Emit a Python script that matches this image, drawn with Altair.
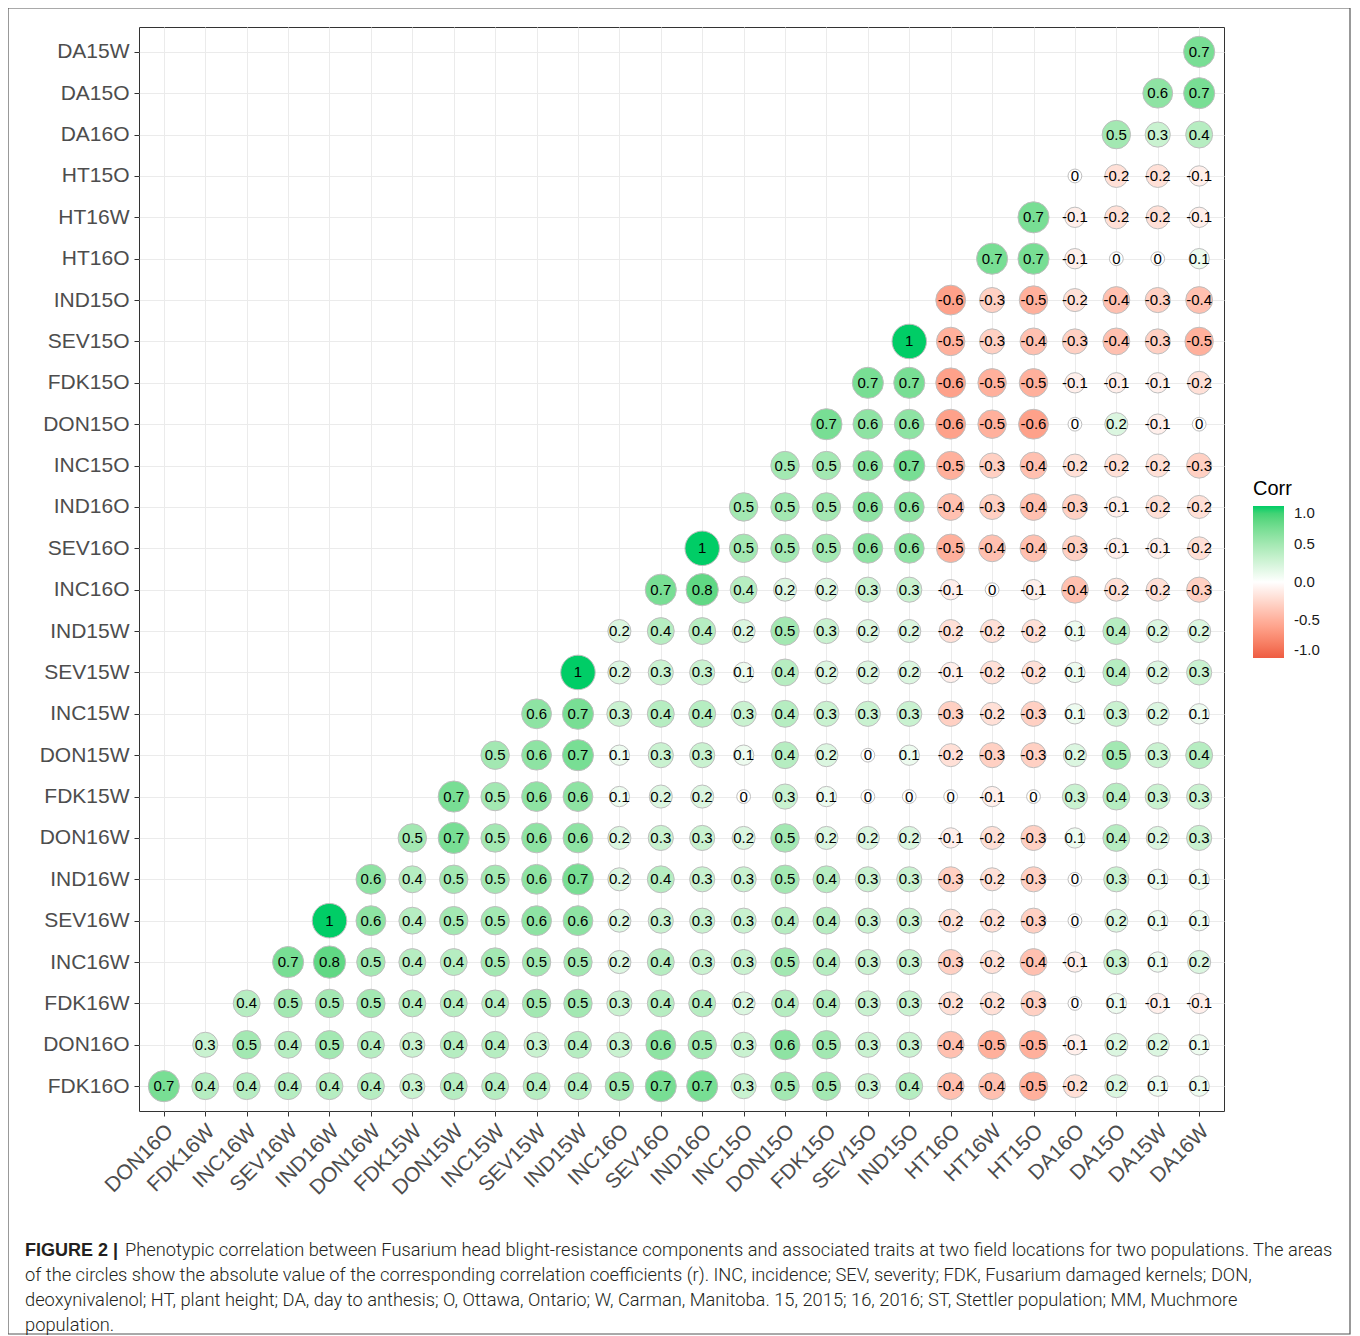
import altair as alt
import pandas as pd

# Variable order (ggcorrplot lower triangle)
variables = ["FDK16O", "DON16O", "FDK16W", "INC16W", "SEV16W", "IND16W", "DON16W",
             "FDK15W", "DON15W", "INC15W", "SEV15W", "IND15W", "INC16O", "SEV16O",
             "IND16O", "INC15O", "DON15O", "FDK15O", "SEV15O", "IND15O", "HT16O",
             "HT16W", "HT15O", "DA16O", "DA15O", "DA15W", "DA16W"]
x_labels = variables[1:]      # columns, left to right
y_labels = variables[:26]     # rows, bottom to top

# Each row: correlations with columns starting at the diagonal (left to right)
row_FDK16O = [0.7, 0.4, 0.4, 0.4, 0.4, 0.4, 0.3, 0.4, 0.4, 0.4, 0.4, 0.5, 0.7, 0.7, 0.3, 0.5, 0.5, 0.3, 0.4, -0.4, -0.4, -0.5, -0.2, 0.2, 0.1, 0.1]
row_DON16O = [0.3, 0.5, 0.4, 0.5, 0.4, 0.3, 0.4, 0.4, 0.3, 0.4, 0.3, 0.6, 0.5, 0.3, 0.6, 0.5, 0.3, 0.3, -0.4, -0.5, -0.5, -0.1, 0.2, 0.2, 0.1]
row_FDK16W = [0.4, 0.5, 0.5, 0.5, 0.4, 0.4, 0.4, 0.5, 0.5, 0.3, 0.4, 0.4, 0.2, 0.4, 0.4, 0.3, 0.3, -0.2, -0.2, -0.3, 0, 0.1, -0.1, -0.1]
row_INC16W = [0.7, 0.8, 0.5, 0.4, 0.4, 0.5, 0.5, 0.5, 0.2, 0.4, 0.3, 0.3, 0.5, 0.4, 0.3, 0.3, -0.3, -0.2, -0.4, -0.1, 0.3, 0.1, 0.2]
row_SEV16W = [1, 0.6, 0.4, 0.5, 0.5, 0.6, 0.6, 0.2, 0.3, 0.3, 0.3, 0.4, 0.4, 0.3, 0.3, -0.2, -0.2, -0.3, 0, 0.2, 0.1, 0.1]
row_IND16W = [0.6, 0.4, 0.5, 0.5, 0.6, 0.7, 0.2, 0.4, 0.3, 0.3, 0.5, 0.4, 0.3, 0.3, -0.3, -0.2, -0.3, 0, 0.3, 0.1, 0.1]
row_DON16W = [0.5, 0.7, 0.5, 0.6, 0.6, 0.2, 0.3, 0.3, 0.2, 0.5, 0.2, 0.2, 0.2, -0.1, -0.2, -0.3, 0.1, 0.4, 0.2, 0.3]
row_FDK15W = [0.7, 0.5, 0.6, 0.6, 0.1, 0.2, 0.2, 0, 0.3, 0.1, 0, 0, 0, -0.1, 0, 0.3, 0.4, 0.3, 0.3]
row_DON15W = [0.5, 0.6, 0.7, 0.1, 0.3, 0.3, 0.1, 0.4, 0.2, 0, 0.1, -0.2, -0.3, -0.3, 0.2, 0.5, 0.3, 0.4]
row_INC15W = [0.6, 0.7, 0.3, 0.4, 0.4, 0.3, 0.4, 0.3, 0.3, 0.3, -0.3, -0.2, -0.3, 0.1, 0.3, 0.2, 0.1]
row_SEV15W = [1, 0.2, 0.3, 0.3, 0.1, 0.4, 0.2, 0.2, 0.2, -0.1, -0.2, -0.2, 0.1, 0.4, 0.2, 0.3]
row_IND15W = [0.2, 0.4, 0.4, 0.2, 0.5, 0.3, 0.2, 0.2, -0.2, -0.2, -0.2, 0.1, 0.4, 0.2, 0.2]
row_INC16O = [0.7, 0.8, 0.4, 0.2, 0.2, 0.3, 0.3, -0.1, 0, -0.1, -0.4, -0.2, -0.2, -0.3]
row_SEV16O = [1, 0.5, 0.5, 0.5, 0.6, 0.6, -0.5, -0.4, -0.4, -0.3, -0.1, -0.1, -0.2]
row_IND16O = [0.5, 0.5, 0.5, 0.6, 0.6, -0.4, -0.3, -0.4, -0.3, -0.1, -0.2, -0.2]
row_INC15O = [0.5, 0.5, 0.6, 0.7, -0.5, -0.3, -0.4, -0.2, -0.2, -0.2, -0.3]
row_DON15O = [0.7, 0.6, 0.6, -0.6, -0.5, -0.6, 0, 0.2, -0.1, 0]
row_FDK15O = [0.7, 0.7, -0.6, -0.5, -0.5, -0.1, -0.1, -0.1, -0.2]
row_SEV15O = [1, -0.5, -0.3, -0.4, -0.3, -0.4, -0.3, -0.5]
row_IND15O = [-0.6, -0.3, -0.5, -0.2, -0.4, -0.3, -0.4]
row_HT16O = [0.7, 0.7, -0.1, 0, 0, 0.1]
row_HT16W = [0.7, -0.1, -0.2, -0.2, -0.1]
row_HT15O = [0, -0.2, -0.2, -0.1]
row_DA16O = [0.5, 0.3, 0.4]
row_DA15O = [0.6, 0.7]
row_DA15W = [0.7]

rows = [row_FDK16O, row_DON16O, row_FDK16W, row_INC16W, row_SEV16W, row_IND16W,
        row_DON16W, row_FDK15W, row_DON15W, row_INC15W, row_SEV15W, row_IND15W,
        row_INC16O, row_SEV16O, row_IND16O, row_INC15O, row_DON15O, row_FDK15O,
        row_SEV15O, row_IND15O, row_HT16O, row_HT16W, row_HT15O, row_DA16O,
        row_DA15O, row_DA15W]

legend_values = [-1.0, -0.5, 0.0, 0.5, 1.0]

caption_bold = "FIGURE 2 |"
caption_line1 = "Phenotypic correlation between Fusarium head blight-resistance components and associated traits at two field locations for two populations. The areas"
caption_rest = [
    "of the circles show the absolute value of the corresponding correlation coefficients (r). INC, incidence; SEV, severity; FDK, Fusarium damaged kernels; DON,",
    "deoxynivalenol; HT, plant height; DA, day to anthesis; O, Ottawa, Ontario; W, Carman, Manitoba. 15, 2015; 16, 2016; ST, Stettler population; MM, Muchmore",
    "population.",
]

records = []
for i, (rname, vals) in enumerate(zip(y_labels, rows)):
    for k, v in enumerate(vals):
        records.append({"row": rname, "col": x_labels[i + k], "r": v, "label": f"{v:g}"})
df = pd.DataFrame(records)

W, H = 1085, 1084
FONT = "Liberation Sans"

base = alt.Chart(df).encode(
    x=alt.X("col:N", scale=alt.Scale(type="point", padding=0.6, domain=x_labels),
            axis=alt.Axis(title=None, labelAngle=-45, labelAlign="right", labelBaseline="top",
                          labelPadding=4, labelOffset=-2)),
    y=alt.Y("row:N", scale=alt.Scale(type="point", padding=0.6, domain=y_labels[::-1]),
            axis=alt.Axis(title=None, labelPadding=5)),
).transform_calculate(
    k="pow(0.4 + 0.6 * sqrt(abs(datum.r)), 2)"
)

circles = base.mark_circle(stroke="#BEBEBE", strokeWidth=1, opacity=1).encode(
    color=alt.Color("r:Q",
                    scale=alt.Scale(domain=[-1, 0, 1], range=["#EE5C42", "#FFFFFF", "#00CD66"],
                                    interpolate="lab"),
                    legend=alt.Legend(title="Corr", orient="none", legendX=1114, legendY=452,
                                      direction="vertical", gradientLength=152,
                                      gradientThickness=31, values=legend_values,
                                      labelExpr="replace(format(datum.value, '.1f'), '\u2212', '-')",
                                      labelFontSize=15, labelFont=FONT, labelColor="#1A1A1A",
                                      labelBaseline="middle", labelOffset=10,
                                      titleFontSize=20, titleFont=FONT, titleFontWeight="normal",
                                      titleColor="#000000", titlePadding=7,
                                      gradientStrokeWidth=0)),
    size=alt.Size("k:Q", scale=alt.Scale(domain=[0, 1], range=[0, 1190]), legend=None),
)

texts = base.mark_text(fontSize=15, font=FONT, color="#000000").encode(text="label:N")

one = pd.DataFrame({"k": [0]})
frame = alt.Chart(one).mark_rect(fill=None, stroke="#555555", strokeWidth=1.2).encode(
    x=alt.value(-131), x2=alt.value(1211), y=alt.value(-19), y2=alt.value(1307))

cap_font = "Roboto"
cap1b = alt.Chart(one).mark_text(align="left", baseline="alphabetic", font=FONT, fontSize=18,
                                 fontWeight="bold", color="#231F20", text=caption_bold).encode(
    x=alt.value(-114), y=alt.value(1229))
cap1 = alt.Chart(one).mark_text(align="left", baseline="alphabetic", font=cap_font, fontSize=18.3,
                                fontWeight=300, color="#231F20", text=caption_line1).encode(
    x=alt.value(-14), y=alt.value(1229))
cap2 = alt.Chart(one).mark_text(align="left", baseline="alphabetic", font=cap_font, fontSize=18.3,
                                fontWeight=300, color="#231F20", lineHeight=25,
                                text=caption_rest).encode(
    x=alt.value(-114), y=alt.value(1254))

chart = alt.layer(frame, circles, texts, cap1b, cap1, cap2).properties(
    width=W, height=H,
    autosize=alt.AutoSizeParams(type="none"),
    padding={"left": 131, "top": 19, "right": 127, "bottom": 225},
).configure_view(
    stroke="#333333", strokeWidth=1
).configure_axis(
    domain=False, grid=True, gridColor="#EBEBEB", gridWidth=1,
    ticks=True, tickColor="#333333", tickSize=5, tickWidth=1,
    labelFont=FONT, labelFontSize=21, labelColor="#4D4D4D",
)

chart.save("out.html", embed_options={"renderer": "svg", "actions": False})
